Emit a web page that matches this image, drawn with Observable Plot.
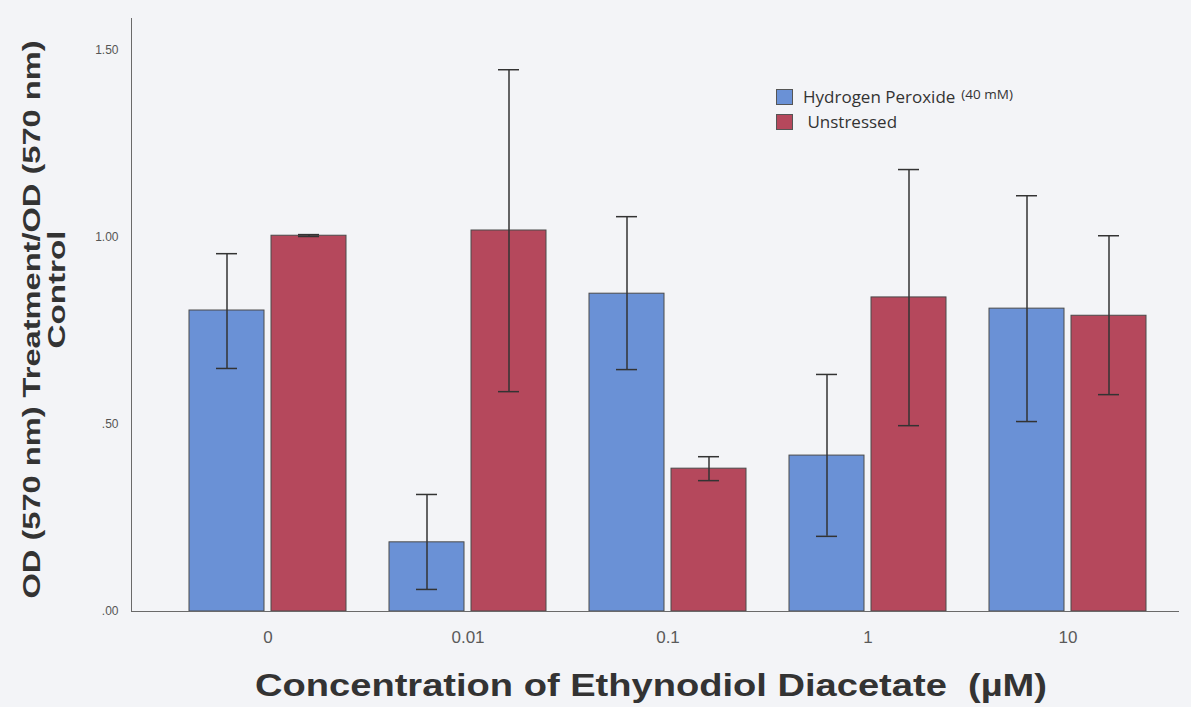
<!DOCTYPE html>
<html><head><meta charset="utf-8">
<script src="https://cdn.jsdelivr.net/npm/d3@7"></script>
<script src="https://cdn.jsdelivr.net/npm/@observablehq/plot@0.6"></script>
<style>
html,body{margin:0;padding:0;background:#f3f4f7;}
#wrap{position:relative;width:1191px;height:707px;overflow:hidden;}
.legend{position:absolute;left:776px;top:84px;font-family:"Open Sans",sans-serif;font-size:17px;color:#333;}
.legend .row{display:flex;align-items:center;height:25px;white-space:nowrap;}
.legend .sw{width:17px;height:16px;border:1px solid #555;margin-right:10px;box-sizing:border-box;}
.legend .small{font-size:13.5px;position:relative;top:-3px;margin-left:6px;}
</style></head><body><div id="wrap"></div>
<script>
const concentrations = ["0", "0.01", "0.1", "1", "10"];
const seriesNames = ["Hydrogen Peroxide", "Unstressed"];
const h2o2Mean = [0.805, 0.185, 0.850, 0.417, 0.810];
const h2o2Low  = [0.650, 0.059, 0.647, 0.201, 0.508];
const h2o2High = [0.957, 0.313, 1.056, 0.634, 1.112];
const unstrMean = [1.005, 1.019, 0.382, 0.840, 0.791];
const unstrLow  = [1.003, 0.588, 0.350, 0.497, 0.580];
const unstrHigh = [1.008, 1.449, 0.414, 1.182, 1.005];
const yTicks = [0, 0.5, 1, 1.5];
const colors = ["#6a91d6", "#b5485c"];
const xTitle = "Concentration of Ethynodiol Diacetate  (µM)";
const yTitle1 = "OD (570 nm) Treatment/OD (570 nm)";
const yTitle2 = "Control";

const h2o2 = concentrations.map((c, i) => ({conc: c, series: seriesNames[0], mean: h2o2Mean[i], lo: h2o2Low[i], hi: h2o2High[i]}));
const unstr = concentrations.map((c, i) => ({conc: c, series: seriesNames[1], mean: unstrMean[i], lo: unstrLow[i], hi: unstrHigh[i]}));

const titleFont = "Liberation Sans, Arial, sans-serif";
const tickFont = "Liberation Sans Narrow, Arial Narrow, Liberation Sans, sans-serif";

const barStyle = {stroke: "#4a4a4a", strokeWidth: 1};
const errStyle = {stroke: "#333", strokeWidth: 1.5};

const chart = Plot.plot({
  width: 1191, height: 707,
  marginLeft: 131, marginRight: 13, marginTop: 18, marginBottom: 96,
  style: {background: "transparent", fontFamily: titleFont},
  x: {domain: concentrations, paddingInner: 0.2173, paddingOuter: 0.2184, align: 0.639, label: null},
  y: {domain: [0, 1.586]},
  color: {domain: seriesNames, range: colors},
  marks: [
    Plot.barY(h2o2, {x: "conc", y: "mean", fill: "series", insetRight: 82, ...barStyle}),
    Plot.barY(unstr, {x: "conc", y: "mean", fill: "series", insetLeft: 82, ...barStyle}),
    Plot.ruleX(h2o2, {x: "conc", y1: "lo", y2: "hi", dx: -41, ...errStyle}),
    Plot.ruleX(unstr, {x: "conc", y1: "lo", y2: "hi", dx: 41, ...errStyle}),
    Plot.tickY(h2o2, {x: "conc", y: "hi", insetLeft: 27, insetRight: 109, ...errStyle}),
    Plot.tickY(h2o2, {x: "conc", y: "lo", insetLeft: 27, insetRight: 109, ...errStyle}),
    Plot.tickY(unstr, {x: "conc", y: "hi", insetLeft: 109, insetRight: 27, ...errStyle}),
    Plot.tickY(unstr, {x: "conc", y: "lo", insetLeft: 109, insetRight: 27, ...errStyle}),
    Plot.axisY({ticks: yTicks, tickSize: 0, tickPadding: 13, fontSize: 12, color: "#555", fontFamily: tickFont,
      tickFormat: d => d3.format(".2f")(d).replace(/^0/, ""), label: null}),
    Plot.axisX({anchor: "bottom", tickSize: 0, tickPadding: 19, fontSize: 17, color: "#5a5a5a", fontFamily: tickFont, label: null}),
    Plot.frame({anchor: "left", stroke: "#6a6a6a"}),
    Plot.frame({anchor: "bottom", stroke: "#6a6a6a"}),
    Plot.text([xTitle], {frameAnchor: "bottom", dy: 84, dx: -4, fontSize: 31, fontWeight: "bold", fill: "#333", className: "xtitle"}),
    Plot.text([yTitle1], {frameAnchor: "left", textAnchor: "middle", rotate: -90, dx: -99, dy: 4.5, fontSize: 24, fontWeight: "bold", fill: "#333", className: "ytitle1"}),
    Plot.text([yTitle2], {frameAnchor: "left", textAnchor: "middle", rotate: -90, dx: -74, dy: -25.5, fontSize: 24, fontWeight: "bold", fill: "#333", className: "ytitle2"})
  ]
});

const svg = d3.select(chart);
svg.selectAll(".xtitle text").attr("textLength", 792).attr("lengthAdjust", "spacingAndGlyphs").style("white-space", "pre");
svg.selectAll(".ytitle1 text").attr("textLength", 558).attr("lengthAdjust", "spacingAndGlyphs");
svg.selectAll(".ytitle2 text").attr("textLength", 118).attr("lengthAdjust", "spacingAndGlyphs");

const wrap = document.getElementById("wrap");
wrap.appendChild(chart);

const legend = document.createElement("div");
legend.className = "legend";
legend.innerHTML =
  `<div class="row"><span class="sw" style="background:${colors[0]}"></span>${seriesNames[0]}<span class="small">(40 mM)</span></div>` +
  `<div class="row"><span class="sw" style="background:${colors[1]}"></span>&nbsp;${seriesNames[1]}</div>`;
wrap.appendChild(legend);
</script>
</body></html>
